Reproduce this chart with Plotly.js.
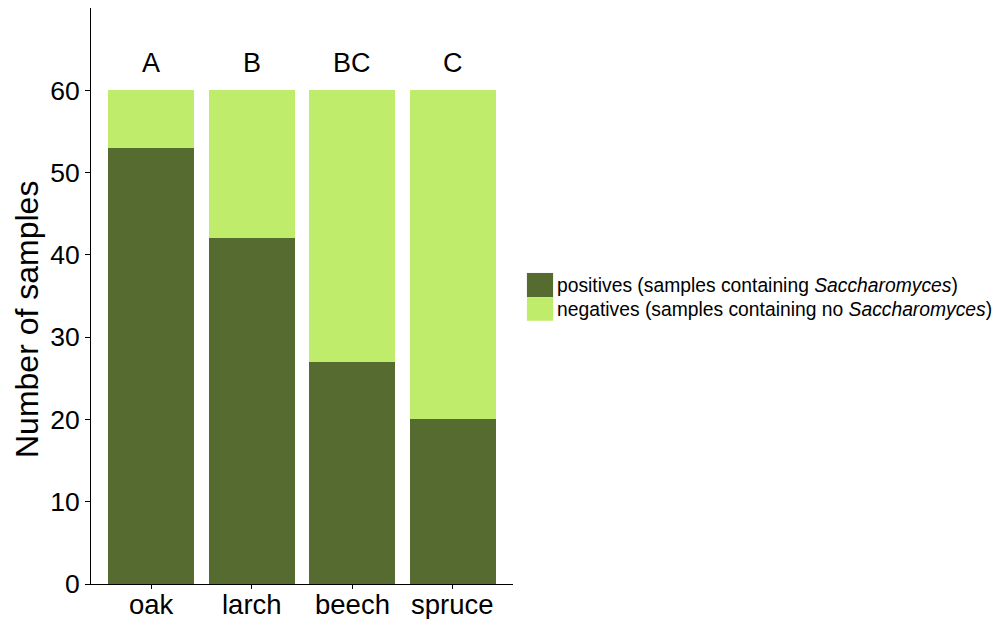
<!DOCTYPE html>
<html>
<head>
<meta charset="utf-8">
<script src="https://cdn.plot.ly/plotly-3.0.1.min.js"></script>
<style>html,body{margin:0;padding:0;background:#fff;}#chart{width:995px;height:619px;}</style>
</head>
<body>
<div id="chart"></div>
<script>
const categories = ["oak", "larch", "beech", "spruce"];
const positives = [53, 42, 27, 20];
const negatives = [7, 18, 33, 40];
const groupLetters = ["A", "B", "BC", "C"];
const letterY = [63.3, 63.3, 63.3, 63.3];
const yAxisTitle = "Number of samples";
const legendLabels = [
  "positives (samples containing <i>Saccharomyces</i>)",
  "negatives (samples containing no <i>Saccharomyces</i>)"
];
const colors = ["#556B2F", "#C0EC6B"];

const font = "Liberation Sans, Arial, sans-serif";

const traces = [
  {type: "bar", x: categories, y: positives, name: legendLabels[0], marker: {color: colors[0], line: {width: 0}}, width: 0.855, showlegend: false},
  {type: "bar", x: categories, y: negatives, name: legendLabels[1], marker: {color: colors[1], line: {width: 0}}, width: 0.855, showlegend: false}
];

const annotations = categories.map((c, i) => ({
  x: c, y: letterY[i], xref: "x", yref: "y", text: groupLetters[i], showarrow: false,
  font: {family: font, size: 27, color: "#000"}, xanchor: "center", yanchor: "middle"
}));
// category tick labels (placed closer to the axis than Plotly's default)
categories.forEach(c => annotations.push({
  x: c, y: 0, xref: "x", yref: "paper", text: c, showarrow: false,
  font: {family: font, size: 27.5, color: "#000"}, xanchor: "center", yanchor: "top", yshift: -3
}));
// y axis title
annotations.push({
  x: -0.1517, y: 0.46, xref: "paper", yref: "paper", text: yAxisTitle, showarrow: false, textangle: -90,
  font: {family: font, size: 32, color: "#000"}, xanchor: "center", yanchor: "middle"
});
const legY = [0.519, 0.477];
legendLabels.forEach((t, i) => annotations.push({
  x: 1.0995, y: legY[i], xref: "paper", yref: "paper", text: t, showarrow: false,
  font: {family: font, size: 19.3, color: "#000"}, xanchor: "left", yanchor: "middle"
}));
const shapes = [
  {type: "rect", xref: "paper", yref: "paper", x0: 1.033, x1: 1.095, y0: 0.498, y1: 0.540, fillcolor: colors[0], line: {width: 0}},
  {type: "rect", xref: "paper", yref: "paper", x0: 1.033, x1: 1.095, y0: 0.457, y1: 0.498, fillcolor: colors[1], line: {width: 0}}
];

const layout = {
  width: 995, height: 619,
  margin: {l: 91, r: 482, t: 8, b: 35},
  paper_bgcolor: "#fff", plot_bgcolor: "#fff",
  barmode: "stack",
  showlegend: false,
  font: {family: font, color: "#000"},
  xaxis: {
    range: [-0.6, 3.6], showgrid: false, zeroline: false,
    showline: true, linecolor: "#000", linewidth: 1,
    ticks: "outside", ticklen: 4, tickcolor: "#000",
    showticklabels: false, automargin: false
  },
  yaxis: {
    range: [0, 70], showgrid: false, zeroline: false,
    showline: true, linecolor: "#000", linewidth: 1,
    ticks: "outside", ticklen: 5, tickcolor: "#000",
    tickvals: [0, 10, 20, 30, 40, 50, 60],
    tickfont: {family: font, size: 26.5, color: "#000"},
    automargin: false
  },
  annotations: annotations,
  shapes: shapes
};

Plotly.newPlot("chart", traces, layout, {displayModeBar: false, staticPlot: true});
</script>
</body>
</html>
